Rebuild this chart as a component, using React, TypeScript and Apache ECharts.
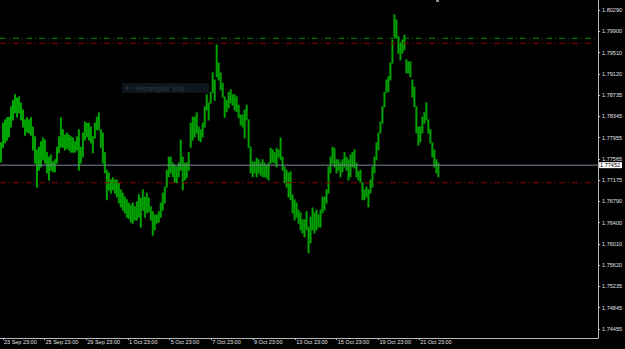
import React, { useEffect, useRef } from 'react';
import * as echarts from 'echarts';

// Bar highs / lows (one bar every 2 px of the original picture, left to right)
const highs = [
  1.7786, 1.7822, 1.7828, 1.7832, 1.7833, 1.7852, 1.7864, 1.7874, 1.7868, 1.7870,
  1.7859, 1.7846, 1.7828, 1.7832, 1.7828, 1.7832, 1.7815, 1.7797, 1.7773, 1.7778,
  1.7788, 1.7795, 1.7791, 1.7768, 1.7760, 1.7764, 1.7751, 1.7755, 1.7778, 1.7797,
  1.7832, 1.7810, 1.7800, 1.7804, 1.7800, 1.7797, 1.7795, 1.7788, 1.7797, 1.7810,
  1.7778, 1.7804, 1.7824, 1.7822, 1.7822, 1.7815, 1.7797, 1.7822, 1.7833, 1.7841,
  1.7810, 1.7804, 1.7768, 1.7736, 1.7731, 1.7718, 1.7722, 1.7718, 1.7718, 1.7713,
  1.7700, 1.7694, 1.7687, 1.7682, 1.7676, 1.7672, 1.7676, 1.7669, 1.7678, 1.7691,
  1.7685, 1.7700, 1.7687, 1.7694, 1.7685, 1.7669, 1.7660, 1.7654, 1.7654, 1.7660,
  1.7676, 1.7694, 1.7705, 1.7736, 1.7760, 1.7760, 1.7749, 1.7745, 1.7742, 1.7749,
  1.7791, 1.7760, 1.7749, 1.7749, 1.7768, 1.7822, 1.7833, 1.7833, 1.7841, 1.7815,
  1.7810, 1.7822, 1.7852, 1.7874, 1.7859, 1.7878, 1.7914, 1.7901, 1.7965, 1.7932,
  1.7914, 1.7895, 1.7870, 1.7864, 1.7878, 1.7883, 1.7874, 1.7874, 1.7870, 1.7855,
  1.7837, 1.7837, 1.7846, 1.7855, 1.7828, 1.7778, 1.7751, 1.7751, 1.7758, 1.7755,
  1.7749, 1.7755, 1.7749, 1.7745, 1.7749, 1.7776, 1.7773, 1.7768, 1.7776, 1.7773,
  1.7795, 1.7760, 1.7742, 1.7736, 1.7731, 1.7733, 1.7691, 1.7682, 1.7676, 1.7663,
  1.7658, 1.7645, 1.7645, 1.7660, 1.7632, 1.7650, 1.7667, 1.7658, 1.7663, 1.7654,
  1.7663, 1.7687, 1.7687, 1.7700, 1.7742, 1.7760, 1.7778, 1.7776, 1.7755, 1.7755,
  1.7749, 1.7755, 1.7768, 1.7760, 1.7755, 1.7764, 1.7768, 1.7773, 1.7749, 1.7733,
  1.7736, 1.7713, 1.7700, 1.7705, 1.7700, 1.7718, 1.7742, 1.7760, 1.7786, 1.7804,
  1.7824, 1.7852, 1.7878, 1.7901, 1.7907, 1.7932, 1.7974, 1.8020, 1.8011, 1.7980,
  1.7969, 1.7974, 1.7983, 1.7938, 1.7934, 1.7934, 1.7901, 1.7888, 1.7852, 1.7815,
  1.7815, 1.7833, 1.7841, 1.7859, 1.7828, 1.7810, 1.7786, 1.7773, 1.7755, 1.7749,
];

const lows = [
  1.7751, 1.7778, 1.7786, 1.7791, 1.7797, 1.7815, 1.7828, 1.7841, 1.7833, 1.7841,
  1.7828, 1.7815, 1.7800, 1.7806, 1.7804, 1.7800, 1.7773, 1.7749, 1.7705, 1.7736,
  1.7742, 1.7755, 1.7749, 1.7731, 1.7718, 1.7736, 1.7733, 1.7733, 1.7749, 1.7768,
  1.7778, 1.7778, 1.7773, 1.7776, 1.7773, 1.7769, 1.7769, 1.7769, 1.7773, 1.7736,
  1.7749, 1.7760, 1.7791, 1.7797, 1.7791, 1.7786, 1.7768, 1.7795, 1.7810, 1.7810,
  1.7778, 1.7749, 1.7731, 1.7682, 1.7700, 1.7694, 1.7700, 1.7694, 1.7687, 1.7676,
  1.7669, 1.7663, 1.7658, 1.7650, 1.7648, 1.7641, 1.7639, 1.7645, 1.7645, 1.7650,
  1.7632, 1.7663, 1.7650, 1.7658, 1.7660, 1.7645, 1.7617, 1.7627, 1.7639, 1.7641,
  1.7650, 1.7663, 1.7676, 1.7705, 1.7724, 1.7731, 1.7724, 1.7714, 1.7713, 1.7724,
  1.7736, 1.7700, 1.7718, 1.7722, 1.7736, 1.7778, 1.7791, 1.7797, 1.7804, 1.7791,
  1.7788, 1.7797, 1.7815, 1.7846, 1.7828, 1.7859, 1.7878, 1.7864, 1.7907, 1.7901,
  1.7883, 1.7870, 1.7833, 1.7843, 1.7850, 1.7859, 1.7855, 1.7846, 1.7843, 1.7832,
  1.7819, 1.7815, 1.7795, 1.7828, 1.7778, 1.7731, 1.7724, 1.7731, 1.7724, 1.7731,
  1.7727, 1.7724, 1.7724, 1.7722, 1.7718, 1.7749, 1.7751, 1.7749, 1.7742, 1.7760,
  1.7755, 1.7736, 1.7713, 1.7705, 1.7687, 1.7682, 1.7658, 1.7645, 1.7650, 1.7639,
  1.7627, 1.7621, 1.7614, 1.7627, 1.7585, 1.7603, 1.7627, 1.7621, 1.7627, 1.7632,
  1.7632, 1.7658, 1.7663, 1.7676, 1.7694, 1.7731, 1.7749, 1.7742, 1.7731, 1.7736,
  1.7724, 1.7733, 1.7742, 1.7736, 1.7718, 1.7724, 1.7742, 1.7740, 1.7724, 1.7718,
  1.7713, 1.7682, 1.7682, 1.7687, 1.7669, 1.7694, 1.7705, 1.7731, 1.7755, 1.7773,
  1.7804, 1.7822, 1.7852, 1.7878, 1.7880, 1.7901, 1.7932, 1.7980, 1.7978, 1.7950,
  1.7938, 1.7950, 1.7956, 1.7914, 1.7914, 1.7907, 1.7870, 1.7852, 1.7804, 1.7782,
  1.7788, 1.7804, 1.7822, 1.7828, 1.7804, 1.7786, 1.7760, 1.7742, 1.7731, 1.7724,
];

// Time axis labels and their positions (in bar units)
const timeLabels = [
  '23 Sep 23:00', '25 Sep 23:00', '29 Sep 23:00', '1 Oct 23:00', '5 Oct 23:00',
  '7 Oct 23:00', '9 Oct 23:00', '13 Oct 23:00', '15 Oct 23:00', '19 Oct 23:00', '21 Oct 23:00',
];
const timeTickPos = [1.5, 22.3, 43.2, 64.1, 85, 105.8, 126.7, 147.8, 168.6, 189.5, 209.9];

// Price scale labels
const priceTicks = [
  1.8029, 1.799, 1.7951, 1.7912, 1.78735, 1.78345, 1.77955, 1.77565,
  1.77175, 1.7679, 1.764, 1.7601, 1.7562, 1.75235, 1.74845, 1.74455,
];

const bidPrice = 1.77452;
const greenLevel = 1.79773;
const redLevelTop = 1.79681;
const redLevelLow = 1.77131;

const X_MIN = 0;
const X_MAX = 299.5;
const FONT = 'Liberation Sans';

export default function App() {
  const ref = useRef<HTMLDivElement>(null);

  useEffect(() => {
    document.body.style.margin = '0';
    document.body.style.background = '#000';
    const chart = echarts.init(ref.current as HTMLDivElement, null, { renderer: 'svg' });
    const data = highs.map((h, i) => [i + 0.5, lows[i], h]);

    const dashDot = [6, 3, 1, 3];
    const levelSeries = (value: number, color: string, type: any, extra: any = {}) => ({
      type: 'line',
      data: [[X_MIN, value], [X_MAX, value]],
      symbol: 'none',
      silent: true,
      z: 5,
      lineStyle: { color, width: 1, type },
      ...extra,
    });

    chart.setOption({
      animation: false,
      backgroundColor: '#000',
      grid: { left: 0, right: 26, top: 0, bottom: 11, containLabel: false },
      xAxis: {
        type: 'value',
        min: X_MIN,
        max: X_MAX,
        splitLine: { show: false },
        axisLine: { show: true, onZero: false, lineStyle: { color: '#b8b8b8', width: 1 } },
        axisTick: { show: true, customValues: timeTickPos, length: 2, lineStyle: { color: '#b8b8b8' } },
        axisLabel: {
          customValues: timeTickPos,
          formatter: (v: number) => {
            let best = 0;
            let d = Infinity;
            timeTickPos.forEach((p, i) => {
              if (Math.abs(p - v) < d) { d = Math.abs(p - v); best = i; }
            });
            return timeLabels[best];
          },
          align: 'left',
          margin: 1,
          padding: [0, 0, 0, 1],
          color: '#e4e4e4',
          fontSize: 5.5,
          fontFamily: FONT,
        },
      },
      yAxis: {
        type: 'value',
        position: 'right',
        min: 1.74291,
        max: 1.80473,
        splitLine: { show: false },
        axisLine: { show: true, onZero: false, lineStyle: { color: '#b8b8b8', width: 1 } },
        axisTick: { show: true, customValues: priceTicks, length: 2, lineStyle: { color: '#b8b8b8' } },
        axisLabel: {
          customValues: priceTicks,
          formatter: (v: number) => v.toFixed(5),
          margin: 4,
          color: '#e4e4e4',
          fontSize: 5.5,
          fontFamily: FONT,
        },
      },
      series: [
        {
          type: 'custom',
          silent: true,
          clip: true,
          data,
          encode: { x: 0, y: [1, 2] },
          renderItem: (params: any, api: any) => {
            const x = api.value(0);
            const lo = api.coord([x, api.value(1)]);
            const hi = api.coord([x, api.value(2)]);
            return {
              type: 'line',
              shape: { x1: lo[0], y1: lo[1] + 0.5, x2: hi[0], y2: hi[1] - 0.5 },
              style: { stroke: '#00a400', lineWidth: 2 },
            };
          },
        },
        levelSeries(greenLevel, '#008a00', dashDot),
        levelSeries(redLevelTop, '#8b0000', dashDot),
        levelSeries(redLevelLow, '#8b0000', dashDot),
        levelSeries(bidPrice, '#778899', 'solid', {
          endLabel: {
            show: true,
            distance: 1,
            formatter: () => bidPrice.toFixed(5),
            backgroundColor: '#ffffff',
            color: '#000000',
            fontSize: 5.5,
            fontFamily: FONT,
            padding: [0, 2, 0, 1],
            lineHeight: 6,
          },
        }),
      ],
      graphic: [
        { type: 'rect', left: 122, top: 83, shape: { width: 87, height: 10 }, style: { fill: '#0e151b' }, silent: true },
        { type: 'circle', shape: { cx: 127, cy: 88, r: 1.6 }, style: { fill: '#27323b' }, silent: true },
        {
          type: 'text', x: 136, y: 88,
          style: { text: 'Rectangular Snip', fill: '#2f3a44', fontSize: 6.3, fontFamily: FONT, verticalAlign: 'middle' },
          silent: true,
        },
        { type: 'rect', left: 436, top: 0, shape: { width: 3, height: 2 }, style: { fill: '#8a8a8a' }, silent: true },
      ],
    });

    return () => chart.dispose();
  }, []);

  return <div ref={ref} style={{ width: 625, height: 349, background: '#000' }} />;
}
